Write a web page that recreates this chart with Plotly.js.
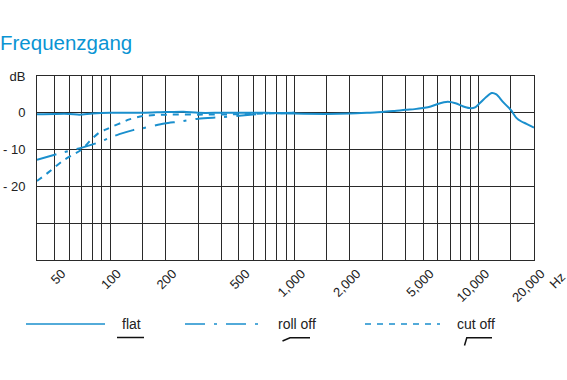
<!DOCTYPE html>
<html>
<head>
<meta charset="utf-8">
<script src="https://cdn.plot.ly/plotly-3.0.1.min.js"></script>
<style>html,body{margin:0;padding:0;background:#fff;}#chart{width:567px;height:380px;}</style>
</head>
<body>
<div id="chart"></div>
<script>
// ---- data ----
const seriesNames = ['flat', 'roll off', 'cut off'];

const freqFlat = [40, 50, 60, 68, 80, 100, 150, 200, 250, 300, 400, 500, 700, 1000, 1500, 2000, 2500, 3000, 3500, 4000, 4500, 5000, 5500, 6000, 6800, 7500, 8200, 8900, 9500, 10100, 11000, 11800, 12500, 13600, 15000, 16000, 17000, 18200, 20000];
const dbFlat   = [-0.4, -0.3, -0.3, -0.5, -0.2, 0, 0, 0.2, 0.3, 0, 0, 0, 0, -0.2, -0.3, -0.2, 0, 0.2, 0.5, 0.8, 1.0, 1.3, 1.7, 2.4, 3.0, 2.6, 1.8, 1.3, 1.4, 2.5, 4.3, 5.4, 5.0, 2.9, 0.7, -1.3, -2.3, -3.0, -4.0];

const freqRoll = [40, 55, 71, 88, 99, 112, 133, 150, 197, 238, 300, 400, 500, 700, 1000];
const dbRoll   = [-12.8, -10.8, -9.4, -7.9, -6.8, -5.8, -4.7, -4.2, -2.9, -2.4, -1.6, -1.2, -0.8, -0.2, 0];

const freqCut = [40, 44, 48, 55, 62, 70, 78, 87, 95, 104, 115, 127, 150, 203, 300, 500, 700, 1000];
const dbCut   = [-18.5, -17, -15.5, -13.1, -11.5, -10, -7.5, -5.4, -4.5, -3.6, -2.7, -1.8, -0.9, -0.5, -0.5, -0.4, -0.2, 0];

const xGridVals  = [50, 60, 70, 80, 90, 100, 150, 200, 300, 400, 500, 600, 700, 800, 900, 1000, 1500, 2000, 3000, 4000, 5000, 6000, 7000, 8000, 9000, 10000, 15000, 20000];
const xLabelVals = [50, 100, 200, 500, 1000, 2000, 5000, 10000, 20000];
const xLabelText = ['50', '100', '200', '500', '1,000', '2,000', '5,000', '10,000', '20,000'];
const yTickVals  = [10, 0, -10, -20, -30, -40];
const yTickText  = ['dB', '0', '- 10', '- 20', '', ''];

// ---- styling ----
const BLUE = '#1a8fcd';
const GRID = '#2a2a2a';
const FONT = 'Liberation Sans, Arial, sans-serif';
const dashes = ['solid', '20px,9px,3px,9px', '6px,6px'];

const xs = [freqFlat, freqRoll, freqCut];
const ys = [dbFlat, dbRoll, dbCut];
const traces = xs.map((x, i) => ({
  x: x, y: ys[i], type: 'scatter', mode: 'lines', name: seriesNames[i],
  line: {color: BLUE, width: 2, dash: dashes[i], shape: 'spline', smoothing: 0.8},
  showlegend: false, hoverinfo: 'skip'
}));

// plot area geometry (pixels)
const L = 37, R = 33, T = 76, B = 120, W = 567, H = 380;
const pw = W - L - R, ph = H - T - B;
const px = v => (v - L) / pw;
const py = v => (H - B - v) / ph;

const shapes = [];
const annotations = [];
// legend (decoration, drawn in paper coordinates)
const legendLines = [[26, 105], [185, 258], [365, 440]];
const legendText = [131, 297, 476];
const legendY = 324;
legendLines.forEach((seg, i) => {
  shapes.push({type: 'line', xref: 'paper', yref: 'paper', x0: px(seg[0]), x1: px(seg[1]), y0: py(legendY), y1: py(legendY),
    line: {color: BLUE, width: 1.6, dash: dashes[i]}});
  annotations.push({xref: 'paper', yref: 'paper', x: px(legendText[i]), y: py(legendY), text: seriesNames[i],
    showarrow: false, xanchor: 'center', yanchor: 'middle', font: {family: FONT, size: 14, color: '#222'}});
});
const symPaths = [
  [[117, 337.5], [144, 337.5]],
  [[282.5, 341], [290, 337.8], [310, 337.8]],
  [[464.5, 345.5], [466.8, 337.8], [492, 337.8]]
];
symPaths.forEach(p => {
  const d = 'M ' + p.map(q => px(q[0]) + ',' + py(q[1])).join(' L ');
  shapes.push({type: 'path', xref: 'paper', yref: 'paper', path: d, line: {color: '#111', width: 1.5}});
});
annotations.push({xref: 'paper', yref: 'paper', x: px(557), y: py(280), text: 'Hz', showarrow: false,
  textangle: -45, xanchor: 'center', yanchor: 'middle', font: {family: FONT, size: 13, color: '#222'}});

const tickText = xGridVals.map(v => { const k = xLabelVals.indexOf(v); return k >= 0 ? xLabelText[k] : ''; });

const layout = {
  width: W, height: H,
  margin: {l: L, r: R, t: T, b: B, pad: 0},
  paper_bgcolor: '#fff', plot_bgcolor: '#fff',
  font: {family: FONT, size: 13, color: '#222'},
  title: {text: 'Frequenzgang', x: 0, xanchor: 'left', xref: 'container', y: 1 - 43 / H, yanchor: 'middle', yref: 'container',
    pad: {l: 0}, font: {family: FONT, size: 20.5, color: '#0a94d3'}},
  xaxis: {type: 'log', range: [Math.log10(40), Math.log10(20000)], tickvals: xGridVals, ticktext: tickText,
    tickangle: -45, ticks: '', showgrid: true, gridcolor: GRID, gridwidth: 1, zeroline: false,
    showline: true, linecolor: GRID, linewidth: 1, mirror: true, ticklabelshift: 7, ticklabelstandoff: 0,
    tickfont: {family: FONT, size: 13, color: '#222'}, fixedrange: true},
  yaxis: {range: [-40, 10], tickvals: yTickVals, ticktext: yTickText, ticks: '', showgrid: true, gridcolor: GRID, gridwidth: 1,
    zeroline: false, showline: true, linecolor: GRID, linewidth: 1, mirror: true, ticklabelstandoff: 8,
    tickfont: {family: FONT, size: 13, color: '#222'}, fixedrange: true},
  shapes: shapes, annotations: annotations, showlegend: false
};

Plotly.newPlot('chart', traces, layout, {displayModeBar: false, staticPlot: true});
</script>
</body>
</html>
